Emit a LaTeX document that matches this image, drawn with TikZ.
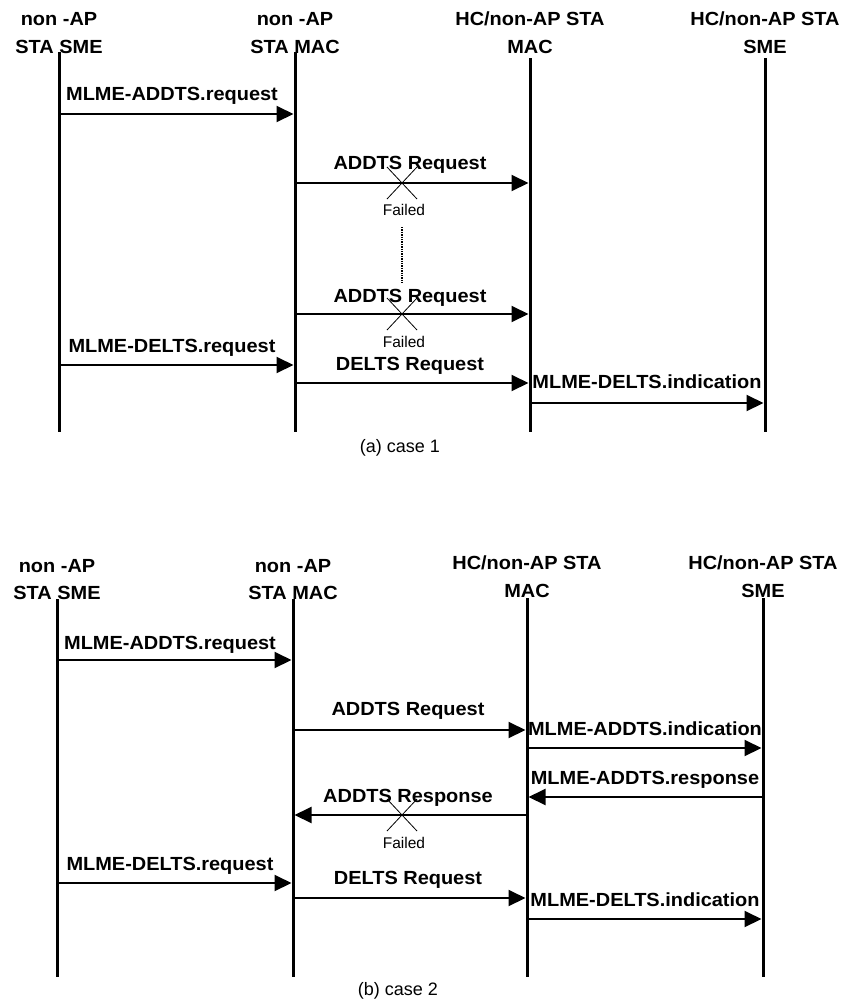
\documentclass[tikz,border=0pt]{standalone}
\usepackage{fontspec}
\setmainfont{Liberation Sans}
\newfontfamily\seqfont[FakeStretch=1.05]{Liberation Sans}
\usetikzlibrary{arrows.meta}
\newcommand{\seqBold}{\seqfont\fontsize{19}{21}\selectfont\bfseries}

\tikzset{
  lifeline/.style={line width=3pt},
  msg/.style={line width=2pt,shorten >=1.5pt,-{Triangle[length=17pt,width=16pt]}},
  hdrtext/.style={anchor=base,inner sep=0pt,font=\seqBold},
  msgtext/.style={anchor=base,inner sep=0pt,font=\seqBold},
  failtext/.style={anchor=base,inner sep=0pt,font=\fontsize{15.5}{17}\selectfont},
  captext/.style={anchor=base,inner sep=0pt,font=\fontsize{18}{20}\selectfont},
  crossline/.style={line width=0.8pt},
  gapline/.style={line width=1.4pt,densely dotted},
}

\begin{document}
\begin{tikzpicture}[x=1pt,y=-1pt]
\useasboundingbox (0,0) rectangle (844,1002);
% (a) case 1
\node[hdrtext] (hA1a) at (59,25) {non -AP};
\node[hdrtext] (hA1b) at (59,53) {STA SME};
\node[hdrtext] (hA2a) at (295,25) {non -AP};
\node[hdrtext] (hA2b) at (295,53) {STA MAC};
\node[hdrtext] (hA3a) at (530,25) {HC/non-AP STA};
\node[hdrtext] (hA3b) at (530,53) {MAC};
\node[hdrtext] (hA4a) at (765,25) {HC/non-AP STA};
\node[hdrtext] (hA4b) at (765,53) {SME};
\coordinate (smeAt) at (59,52);  \coordinate (smeAb) at (59,432);
\coordinate (macAt) at (295,52); \coordinate (macAb) at (295,432);
\coordinate (hcmAt) at (530,58); \coordinate (hcmAb) at (530,432);
\coordinate (hcsAt) at (765,58); \coordinate (hcsAb) at (765,432);
\draw[lifeline] (smeAt) -- (smeAb);
\draw[lifeline] (macAt) -- (macAb);
\draw[lifeline] (hcmAt) -- (hcmAb);
\draw[lifeline] (hcsAt) -- (hcsAb);
\coordinate (a1s) at (59,114);  \coordinate (a1e) at (295,114);
\coordinate (a2s) at (295,183); \coordinate (a2e) at (530,183);
\coordinate (a3s) at (295,314); \coordinate (a3e) at (530,314);
\coordinate (a4s) at (59,365);  \coordinate (a4e) at (295,365);
\coordinate (a5s) at (295,383); \coordinate (a5e) at (530,383);
\coordinate (a6s) at (530,403); \coordinate (a6e) at (765,403);
\draw[msg] (a1s) -- (a1e);
\draw[msg] (a2s) -- (a2e);
\draw[msg] (a3s) -- (a3e);
\draw[msg] (a4s) -- (a4e);
\draw[msg] (a5s) -- (a5e);
\draw[msg] (a6s) -- (a6e);
\node[msgtext] (tA1) at (172,100) {MLME-ADDTS.request};
\node[msgtext] (tA2) at (410,169) {ADDTS Request};
\node[msgtext] (tA3) at (410,302) {ADDTS Request};
\node[msgtext] (tA4) at (172,352) {MLME-DELTS.request};
\node[msgtext] (tA5) at (410,370) {DELTS Request};
\node[msgtext] (tA6) at (647,388) {MLME-DELTS.indication};
\coordinate (xA1) at (402,183);
\coordinate (xA2) at (402,314);
\draw[crossline] (xA1) +(-15,-16) -- +(15,16) (xA1) +(-15,16) -- +(15,-16);
\draw[crossline] (xA2) +(-15,-16) -- +(15,16) (xA2) +(-15,16) -- +(15,-16);
\node[failtext] (fA1) at (404,215) {Failed};
\node[failtext] (fA2) at (404,347) {Failed};
\coordinate (gapAt) at (402,227); \coordinate (gapAb) at (402,283);
\draw[gapline] (gapAt) -- (gapAb);
\node[captext] (capA) at (400,452) {(a) case 1};
% (b) case 2
\node[hdrtext] (hB1a) at (57,572) {non -AP};
\node[hdrtext] (hB1b) at (57,599) {STA SME};
\node[hdrtext] (hB2a) at (293,572) {non -AP};
\node[hdrtext] (hB2b) at (293,599) {STA MAC};
\node[hdrtext] (hB3a) at (527,569) {HC/non-AP STA};
\node[hdrtext] (hB3b) at (527,597) {MAC};
\node[hdrtext] (hB4a) at (763,569) {HC/non-AP STA};
\node[hdrtext] (hB4b) at (763,597) {SME};
\coordinate (smeBt) at (57,599);  \coordinate (smeBb) at (57,977);
\coordinate (macBt) at (293,599); \coordinate (macBb) at (293,977);
\coordinate (hcmBt) at (527,598); \coordinate (hcmBb) at (527,977);
\coordinate (hcsBt) at (763,598); \coordinate (hcsBb) at (763,977);
\draw[lifeline] (smeBt) -- (smeBb);
\draw[lifeline] (macBt) -- (macBb);
\draw[lifeline] (hcmBt) -- (hcmBb);
\draw[lifeline] (hcsBt) -- (hcsBb);
\coordinate (b1s) at (57,660);  \coordinate (b1e) at (293,660);
\coordinate (b2s) at (293,730); \coordinate (b2e) at (527,730);
\coordinate (b3s) at (527,748); \coordinate (b3e) at (763,748);
\coordinate (b4s) at (763,797); \coordinate (b4e) at (527,797);
\coordinate (b5s) at (527,815); \coordinate (b5e) at (293,815);
\coordinate (b6s) at (57,883);  \coordinate (b6e) at (293,883);
\coordinate (b7s) at (293,898); \coordinate (b7e) at (527,898);
\coordinate (b8s) at (527,919); \coordinate (b8e) at (763,919);
\draw[msg] (b1s) -- (b1e);
\draw[msg] (b2s) -- (b2e);
\draw[msg] (b3s) -- (b3e);
\draw[msg] (b4s) -- (b4e);
\draw[msg] (b5s) -- (b5e);
\draw[msg] (b6s) -- (b6e);
\draw[msg] (b7s) -- (b7e);
\draw[msg] (b8s) -- (b8e);
\node[msgtext] (tB1) at (170,649) {MLME-ADDTS.request};
\node[msgtext] (tB2) at (408,715) {ADDTS Request};
\node[msgtext] (tB3) at (645,735) {MLME-ADDTS.indication};
\node[msgtext] (tB4) at (645,784) {MLME-ADDTS.response};
\node[msgtext] (tB5) at (408,802) {ADDTS Response};
\node[msgtext] (tB6) at (170,870) {MLME-DELTS.request};
\node[msgtext] (tB7) at (408,884) {DELTS Request};
\node[msgtext] (tB8) at (645,906) {MLME-DELTS.indication};
\coordinate (xB1) at (402,815);
\draw[crossline] (xB1) +(-15,-16) -- +(15,16) (xB1) +(-15,16) -- +(15,-16);
\node[failtext] (fB1) at (404,848) {Failed};
\node[captext] (capB) at (398,995) {(b) case 2};
\end{tikzpicture}
\end{document}
